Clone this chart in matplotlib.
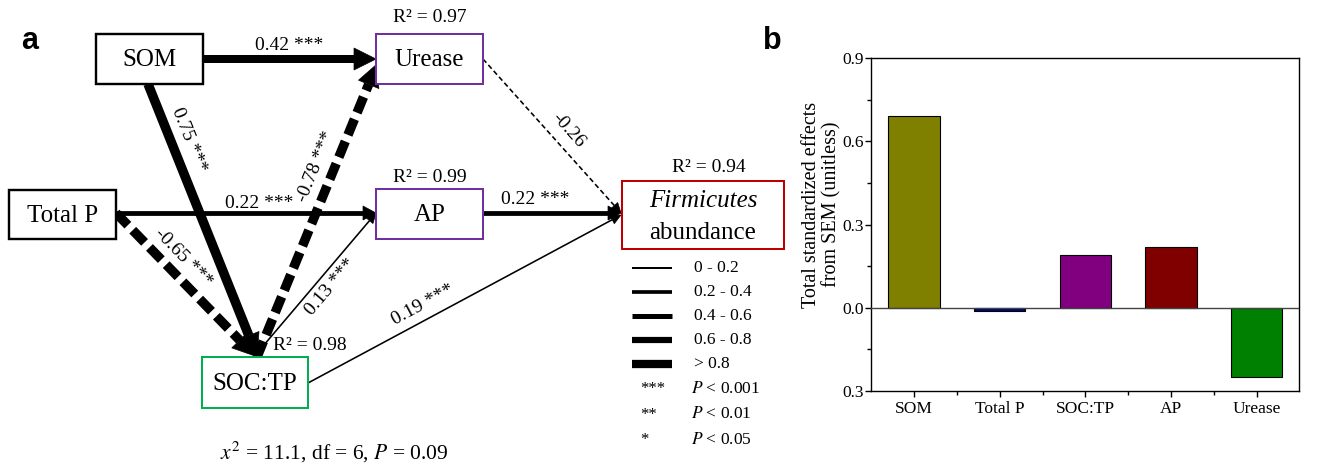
# path diagram (a) + total effects bars (b)
import numpy as np
import matplotlib
matplotlib.use('Agg')
import matplotlib.pyplot as plt
from matplotlib.patches import Rectangle, Polygon
from matplotlib.ticker import FixedLocator

plt.rcParams['font.family'] = ['Liberation Serif', 'DejaVu Serif']
plt.rcParams['mathtext.fontset'] = 'stix'

# ---- data: SEM paths ----
edge_from = ['SOM', 'SOM', 'Total P', 'Total P', 'SOC:TP', 'SOC:TP', 'SOC:TP', 'AP', 'Urease']
edge_to = ['Urease', 'SOC:TP', 'AP', 'SOC:TP', 'Urease', 'AP', 'Firmicutes', 'Firmicutes', 'Firmicutes']
edge_coef = [0.42, 0.75, 0.22, -0.65, -0.78, 0.13, 0.19, 0.22, -0.26]
edge_sig = ['***', '***', '***', '***', '***', '***', '***', '***', '']

r2_nodes = ['Urease', 'AP', 'SOC:TP', 'Firmicutes']
r2_values = [0.97, 0.99, 0.98, 0.94]

width_labels = ['0 - 0.2', '0.2 - 0.4', '0.4 - 0.6', '0.6 - 0.8', '> 0.8']
sig_marks = ['***', '**', '*']
sig_labels = ['< 0.001', '< 0.01', '< 0.05']

chi2, df, p_model = 11.1, 6, 0.09

# ---- data: total standardized effects ----
categories = ['SOM', 'Total P', 'SOC:TP', 'AP', 'Urease']
effects = [0.69, -0.01, 0.19, 0.22, -0.25]
bar_colors = ['#808000', '#000080', '#800080', '#800000', '#008000']

# ---- layout (pixel coordinates of panel a) ----
boxes = {  # x0, y0, x1, y1, edge colour
    'SOM': (96, 34, 203, 84, 'black'),
    'Urease': (376, 34, 483, 84, '#7030A0'),
    'Total P': (9, 190, 116, 239, 'black'),
    'AP': (376, 189, 483, 239, '#7030A0'),
    'SOC:TP': (202, 357, 308, 408, '#00B050'),
    'Firmicutes': (622, 181, 784, 249, '#C00000'),
}
# anchor points used for each edge (start, tip)
anchors = {
    ('SOM', 'Urease'): ((203, 59), (376, 59)),
    ('SOM', 'SOC:TP'): ((148, 84), (257, 356)),
    ('Total P', 'AP'): ((116, 213), (376, 213)),
    ('Total P', 'SOC:TP'): ((116, 213), (255, 356)),
    ('SOC:TP', 'Urease'): ((257, 357), (377, 64)),
    ('SOC:TP', 'AP'): ((258, 352), (376, 213)),
    ('SOC:TP', 'Firmicutes'): ((308, 383), (621, 215)),
    ('AP', 'Firmicutes'): ((483, 213), (621, 213)),
    ('Urease', 'Firmicutes'): ((483, 59), (621, 213)),
}
# label position: fraction along path, perpendicular offset (px)
label_pos = [(0.5, 14), (0.23, 17.5), (0.55, 10), (0.395, 17), (0.625, 17.7),
             (0.53, -12.8), (0.39, 14.5), (0.38, 13), (0.53, 15.6)]
r2_pos = {'Urease': (430, 18), 'AP': (430, 177), 'SOC:TP': (310, 345), 'Firmicutes': (709, 167)}

PT = 0.72  # px -> pt at 100 dpi


def path_width(c, sig):
    a = abs(c)
    if not sig or a < 0.2:
        return 1.6
    if a < 0.4:
        return 4.8
    if a < 0.6:
        return 8.0
    if a < 0.8:
        return 9.5
    return 11


def draw_edge(ax, p0, p1, c, sig, t, off):
    p0 = np.array(p0, float)
    p1 = np.array(p1, float)
    w = path_width(c, sig)
    d = p1 - p0
    L = np.hypot(*d)
    u = d / L
    n = np.array([u[1], -u[0]])
    if w < 2:
        hl, hw = 10, 9
    elif w < 6:
        hl, hw = 13, 14
    else:
        hl, hw = 22, 22
    base = p1 - u * hl
    kw = dict(color='black', lw=w * PT, solid_capstyle='butt', dash_capstyle='butt')
    if c < 0:
        on, gap = (5, 3) if w < 2 else (17, 7)
        kw['dashes'] = (on / w, gap / w)
    ax.plot([p0[0], base[0]], [p0[1], base[1]], **kw)
    ax.add_patch(Polygon([p1, base + n * hw / 2, base - n * hw / 2], closed=True,
                         fc='black', ec='black', lw=0.5))
    pos = p0 + u * L * t + n * off
    ang = np.degrees(np.arctan2(-u[1], u[0]))
    txt = f'{c:.2f} {sig}'.strip()
    ax.text(pos[0], pos[1], txt, rotation=ang, rotation_mode='anchor',
            ha='center', va='center', fontsize=14)


fig = plt.figure(figsize=(13.26, 4.63), dpi=100)
ax = fig.add_axes([0, 0, 1, 1])
ax.set_xlim(0, 1326)
ax.set_ylim(463, 0)
ax.axis('off')

# edges
for i in range(len(edge_coef)):
    p0, p1 = anchors[(edge_from[i], edge_to[i])]
    draw_edge(ax, p0, p1, edge_coef[i], edge_sig[i], *label_pos[i])

# boxes
for name, (x0, y0, x1, y1, col) in boxes.items():
    lw = 2.4 if col == 'black' else 2.0
    ax.add_patch(Rectangle((x0, y0), x1 - x0, y1 - y0, fill=True, fc='white',
                           ec=col, lw=lw * PT, zorder=3))
    cx, cy = (x0 + x1) / 2, (y0 + y1) / 2
    if name == 'Firmicutes':
        ax.text(cx, cy - 14, 'Firmicutes', style='italic', fontsize=18,
                ha='center', va='center', zorder=4)
        ax.text(cx, cy + 18, 'abundance', fontsize=18, ha='center', va='center', zorder=4)
    else:
        ax.text(cx, cy + 1, name, fontsize=18, ha='center', va='center', zorder=4)

for name, v in zip(r2_nodes, r2_values):
    x, y = r2_pos[name]
    ax.text(x, y, f'R² = {v:.2f}', fontsize=14, ha='center', va='center')

# legend for path widths
leg_w = [2.0, 3.7, 5.0, 6.2, 8.3]
for i, lab in enumerate(width_labels):
    y = 268 + i * 24
    ax.plot([632, 672], [y, y], color='black', lw=leg_w[i] * PT, solid_capstyle='butt')
    ax.text(694, y, lab, fontsize=12.5, ha='left', va='center')
for i, (m, lab) in enumerate(zip(sig_marks, sig_labels)):
    y = 389 + i * 25.5
    ax.text(640, y, m, fontsize=12, ha='left', va='center')
    ax.text(691, y, r'$P$ ' + lab, fontsize=12.5, ha='left', va='center')

ax.text(334, 452, rf'$x^2$ = {chi2}, df = {df}, $P$ = {p_model:.2f}',
        fontsize=15.5, ha='center', va='center')

ax.text(30, 41, 'a', fontsize=22, fontweight='bold', family='Liberation Sans',
        ha='center', va='center')
ax.text(772, 41, 'b', fontsize=22, fontweight='bold', family='Liberation Sans',
        ha='center', va='center')

# ---- panel b ----
axb = fig.add_axes([0.657, 0.1555, 0.323, 0.7192])
xpos = np.arange(len(categories))
axb.bar(xpos, effects, 0.6, color=bar_colors, edgecolor='black', linewidth=0.8, zorder=2)
axb.axhline(0, color='#444444', lw=1.0, zorder=3)
axb.set_xlim(-0.5, 4.5)
axb.set_ylim(-0.3, 0.9)
axb.set_xticks(xpos)
axb.set_xticklabels(categories, fontsize=12.5)
axb.xaxis.set_minor_locator(FixedLocator([0.5, 1.5, 2.5, 3.5]))
axb.set_yticks([0.9, 0.6, 0.3, 0.0, -0.3])
axb.set_yticklabels(['0.9', '0.6', '0.3', '0.0', '0.3'], fontsize=12.5)
axb.yaxis.set_minor_locator(FixedLocator([0.75, 0.45, 0.15, -0.15]))
axb.tick_params(which='major', direction='out', length=4, width=1, pad=1.5)
axb.tick_params(which='minor', direction='out', length=3, width=1)
axb.tick_params(axis='x', which='major', pad=3)
for s in axb.spines.values():
    s.set_linewidth(1.0)
axb.set_ylabel('Total standardized effects\nfrom SEM (unitless)', fontsize=14.5,
               linespacing=1.05)
axb.yaxis.set_label_coords(-0.07, 0.56)

fig.savefig('out.png', dpi=100)
